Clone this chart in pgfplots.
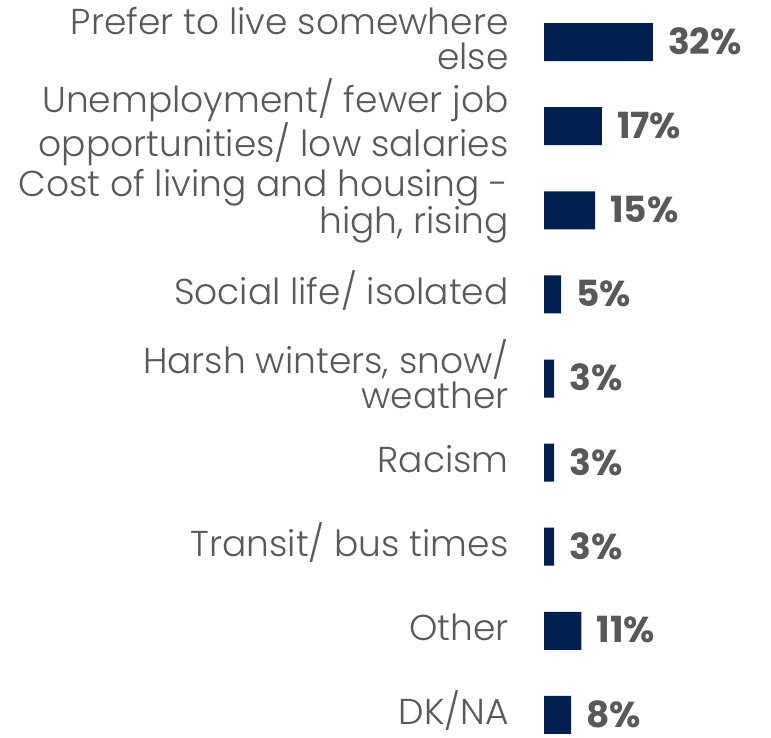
\documentclass[border=0pt]{standalone}
\usepackage{pgfplots}
\pgfplotsset{compat=1.18}
\usepackage{fontspec}
\setmainfont{Poppins}
\newfontfamily\lightfont{Poppins}[UprightFont=*-Light]
\definecolor{barnavy}{RGB}{0,33,79}
\definecolor{txtgray}{RGB}{89,89,89}
\begin{document}
\begin{tikzpicture}
\begin{axis}[
  at={(544pt,-19pt)}, anchor=south west,
  scale only axis, width=204pt, height=757pt,
  xbar, bar width=38pt, bar shift=0pt,
  xmin=0, xmax=60, ymin=-0.5, ymax=8.5, y dir=reverse,
  axis line style={draw=none}, tick style={draw=none},
  xtick=\empty,
  ytick={0,...,8},
  yticklabels={{Prefer to live somewhere\\else},
    {Unemployment/ fewer job\\opportunities/ low salaries},
    {Cost of living and housing -\\high, rising},
    {Social life/ isolated},
    {Harsh winters, snow/\\weather},
    {Racism},
    {Transit/ bus times},
    {Other},
    {DK/NA}},
  yticklabel style={font=\lightfont\fontsize{36}{35}\selectfont, text=txtgray,
    align=right, anchor=east, inner sep=0pt, xshift=-31pt, yshift=4pt},
  /pgf/number format/assume math mode=true,
  nodes near coords={\pgfmathprintnumber{\pgfplotspointmeta}\%},
  nodes near coords style={font=\bfseries\fontsize{36}{36}\selectfont,
    text=txtgray, anchor=west, inner sep=0pt, text depth=0pt,
    xshift=15pt, yshift=1pt},
]
\addplot[fill=barnavy, draw=none] coordinates {
  (32,0) (17,1) (15,2) (5,3) (3,4) (3,5) (3,6) (11,7) (8,8)
};
\end{axis}
\pgfresetboundingbox
\path (0,0) rectangle (771pt,738pt);
\end{tikzpicture}
\end{document}
